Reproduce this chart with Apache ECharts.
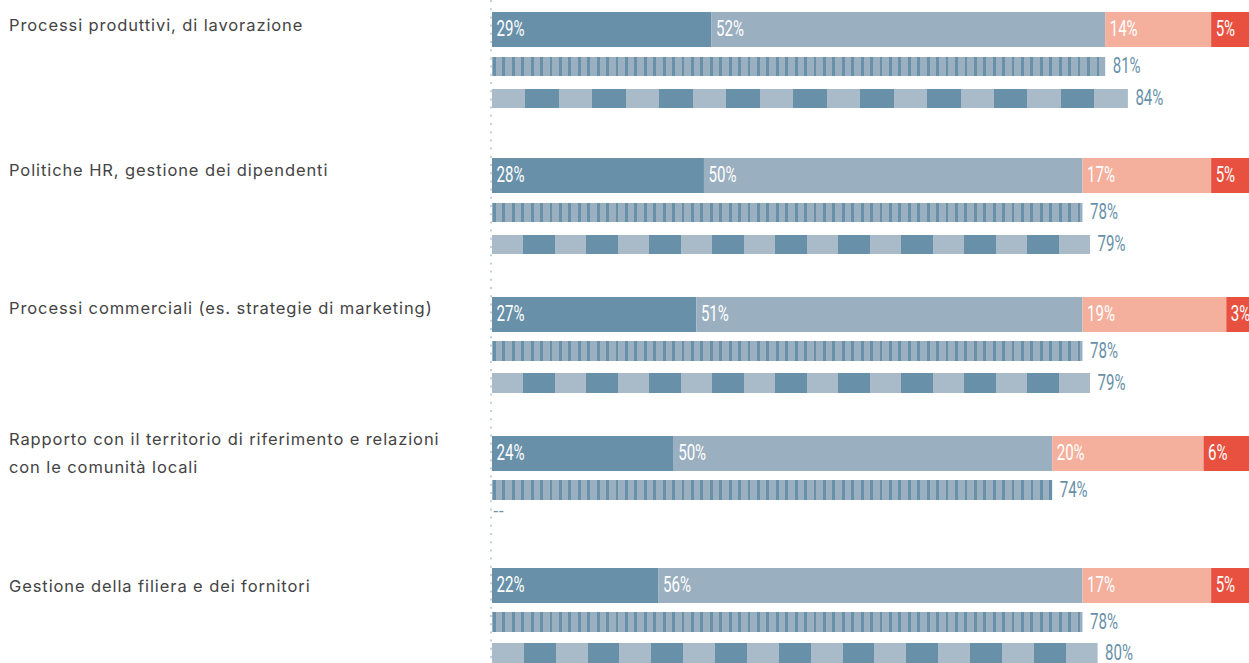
<!DOCTYPE html>
<html><head><meta charset="utf-8">
<script src="https://cdn.jsdelivr.net/npm/echarts@6/dist/echarts.min.js"></script>
<style>
html,body{margin:0;padding:0;background:#fff}
#c{width:1249px;height:663px}
#c text[style*="Inter"], #c text[font-family*="Inter"]{letter-spacing:0.9px}
</style>
</head><body><div id="c"></div>
<script>
// ---- data ----
const categories = [
  'Processi produttivi, di lavorazione',
  'Politiche HR, gestione dei dipendenti',
  'Processi commerciali (es. strategie di marketing)',
  'Rapporto con il territorio di riferimento e relazioni con le comunità locali',
  'Gestione della filiera e dei fornitori'
];
const seg1 = [29, 28, 27, 24, 22];
const seg2 = [52, 50, 51, 50, 56];
const seg3 = [14, 17, 19, 20, 17];
const seg4 = [5, 5, 3, 6, 5];
const stripedValues = [81, 78, 78, 74, 78];
const blockValues = [84, 79, 79, null, 80];

// ---- layout / style ----
const rowLayout = [
  [[12,35],[57,19],[89,19]],
  [[158,35],[203,19],[235,19]],
  [[297,35],[341,20],[373,20]],
  [[436,35],[480,20],[501,20]],
  [[568,35],[612,20],[643,20]]
];
const labelY = [25, 170, 308, 453, 586];
const GL = 492, GW = 757;
const DARK = '#6891a9', LIGHT = '#9aafc0', SALMON = '#f5af9d', RED = '#e8513f', BLOCKLIGHT = '#a9bac8';
const NUMFONT = "22.5px Roboto, 'Liberation Sans', sans-serif";
const NUMSCALE = 0.67;

function stripeFill(v) {
  const L = v / 100 * GW, p = 9.43, w = 2.8;
  const stops = [{offset:0, color:LIGHT}];
  for (let x = 1; x < L; x += p) {
    const a = x / L, b = Math.min((x + w) / L, 1);
    stops.push({offset:a,color:LIGHT},{offset:a,color:DARK},{offset:b,color:DARK},{offset:b,color:LIGHT});
  }
  stops.push({offset:1,color:LIGHT});
  return {type:'linear', x:0, y:0, x2:1, y2:0, colorStops:stops};
}
function blockFill() {
  const n = 19, stops = [];
  for (let i = 0; i < n; i++) {
    const c = i % 2 === 0 ? BLOCKLIGHT : DARK;
    stops.push({offset:i/n, color:c},{offset:(i+1)/n, color:c});
  }
  return {type:'linear', x:0, y:0, x2:1, y2:0, colorStops:stops};
}

const grids = [], xAxes = [], yAxes = [], series = [];
let gi = 0;
categories.forEach((cat, g) => {
  rowLayout[g].forEach((r) => {
    grids.push({left:GL, width:GW, top:r[0], height:r[1]});
    xAxes.push({gridIndex:gi, type:'value', min:0, max:100, show:false});
    yAxes.push({gridIndex:gi, type:'category', data:[cat], show:false});
    gi++;
  });
  const base = g * 3;
  const segs = [seg1[g], seg2[g], seg3[g], seg4[g]];
  const cols = [DARK, LIGHT, SALMON, RED];
  segs.forEach((v, k) => {
    series.push({
      type:'bar', xAxisIndex:base, yAxisIndex:base, stack:'s'+g, barWidth:'100%',
      data:[v], itemStyle:{color:cols[k]}, silent:true
    });
  });
  series.push({
    type:'bar', xAxisIndex:base+1, yAxisIndex:base+1, barWidth:'100%', silent:true,
    data:[stripedValues[g]], itemStyle:{color:stripeFill(stripedValues[g])}
  });
  const bv = blockValues[g];
  series.push({
    type:'bar', xAxisIndex:base+2, yAxisIndex:base+2, barWidth:'100%', silent:true,
    data:[bv == null ? 0 : bv], itemStyle:{color:blockFill()}
  });
});

const chart = echarts.init(document.getElementById('c'), null, {renderer:'svg'});
chart.setOption({
  animation:false,
  grid:grids, xAxis:xAxes, yAxis:yAxes, series:series
});

// ---- labels (condensed look via horizontal scale), positioned via axis scales ----
function numLabel(x, y, text, color) {
  return {type:'text', silent:true, x:x, y:y - 1, scaleX:NUMSCALE, z:10,
    style:{x:0, y:0, text:text, fill:color, font:NUMFONT, verticalAlign:'middle', align:'left'}};
}
const graphics = [{
  type:'line', silent:true,
  shape:{x1:491, y1:0, x2:491, y2:663},
  style:{stroke:'#c4d1db', lineWidth:2, lineDash:[2,6.2]}
}];
categories.forEach((cat, g) => {
  graphics.push({
    type:'text', silent:true,
    style:{x:9, y:labelY[g], text:cat, fill:'#444', font:"16.5px Inter",
      verticalAlign:'middle', lineHeight:28, width:400, overflow:'break'}
  });
  const base = g * 3;
  const segs = [seg1[g], seg2[g], seg3[g], seg4[g]];
  let cum = 0;
  segs.forEach((v) => {
    const p = chart.convertToPixel({gridIndex:base}, [cum, 0]);
    graphics.push(numLabel(p[0] + 4.5, p[1], v + '%', '#fff'));
    cum += v;
  });
  const ps = chart.convertToPixel({gridIndex:base+1}, [stripedValues[g], 0]);
  graphics.push(numLabel(ps[0] + 7.5, ps[1], stripedValues[g] + '%', DARK));
  const bv = blockValues[g];
  const pb = chart.convertToPixel({gridIndex:base+2}, [bv == null ? 0 : bv, 0]);
  if (bv == null) {
    graphics.push({type:'text', silent:true, x:pb[0] + 1, y:pb[1],
      style:{x:0, y:0, text:'--', fill:DARK, font:"15px 'DejaVu Sans', sans-serif", verticalAlign:'middle', align:'left'}});
  } else {
    graphics.push(numLabel(pb[0] + 7.5, pb[1], bv + '%', DARK));
  }
});
chart.setOption({graphic:graphics});
</script></body></html>
